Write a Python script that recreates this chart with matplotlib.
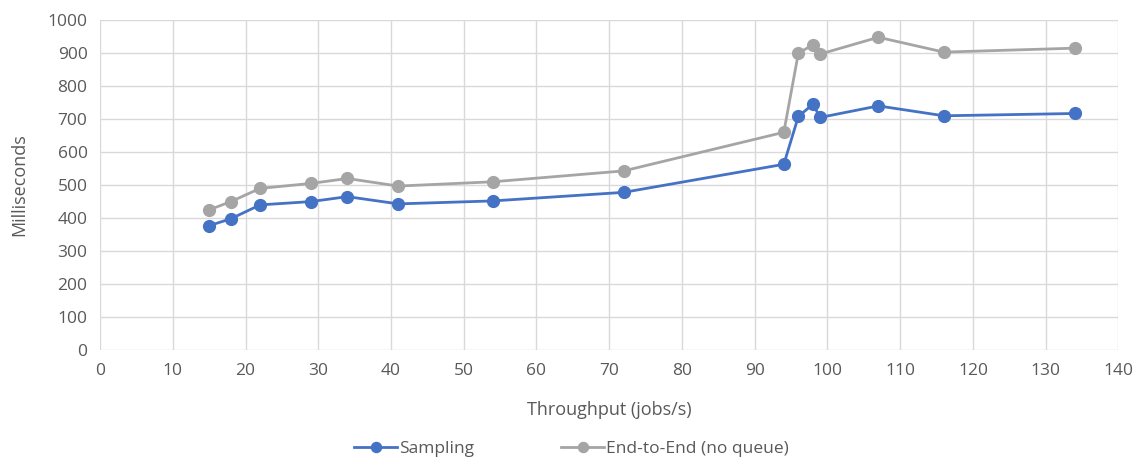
import matplotlib.pyplot as plt

# --- Datos ---
throughput = [15, 18, 22, 29, 34, 41, 54, 72, 94, 96, 98, 99, 107, 116, 134]
sampling = [377, 398, 440, 450, 465, 443, 452, 478, 563, 708, 745, 705, 740, 710, 717]
end_to_end = [425, 450, 490, 505, 520, 497, 510, 543, 660, 900, 925, 897, 948, 903, 915]

plt.rcParams['font.family'] = ['Open Sans', 'DejaVu Sans']
txt = '#595959'

fig = plt.figure(figsize=(11.43, 4.57), dpi=100)
ax = fig.add_axes([0.0875, 0.234, 0.891, 0.722])

ax.plot(throughput, sampling, color='#4472C4', marker='o', markersize=8.5,
        linewidth=2, label='Sampling', zorder=3)
ax.plot(throughput, end_to_end, color='#A5A5A5', marker='o', markersize=8.5,
        linewidth=2, label='End-to-End (no queue)', zorder=3)

ax.set_xlim(0, 140)
ax.set_ylim(0, 1000)
ax.set_xticks(range(0, 141, 10))
ax.set_yticks(range(0, 1001, 100))
ax.grid(True, color='#D9D9D9', linewidth=1)
ax.set_axisbelow(True)
for s in ax.spines.values():
    s.set_visible(False)
ax.tick_params(length=0, labelsize=12.5, colors=txt, pad=9)

ax.set_xlabel('Throughput (jobs/s)', fontsize=13, color=txt, labelpad=16)
ax.set_ylabel('Milliseconds', fontsize=13, color=txt, labelpad=14)

fig.legend(loc='lower center', bbox_to_anchor=(0.5, -0.035), ncol=2, frameon=False,
           fontsize=12.5, labelcolor=txt, columnspacing=5, handlelength=2.5,
           handletextpad=0.1, markerscale=0.85)

fig.savefig('out.png', dpi=100)
